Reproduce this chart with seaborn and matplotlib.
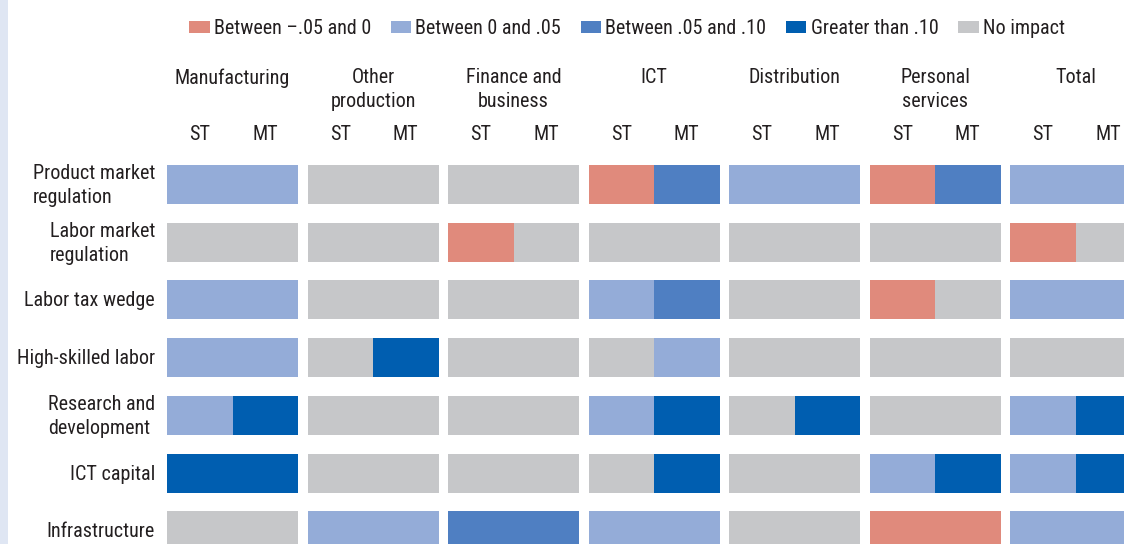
import numpy as np
import pandas as pd
import matplotlib
matplotlib.use('Agg')
import matplotlib.pyplot as plt
from matplotlib.colors import ListedColormap
from matplotlib.patches import Patch, Rectangle
import seaborn as sns

sns.set_style('white')
plt.rcParams['font.family'] = ['Roboto Condensed', 'DejaVu Sans']

# categories: 0 = between -.05 and 0, 1 = between 0 and .05,
# 2 = between .05 and .10, 3 = greater than .10, 4 = no impact
legend_labels = ['Between \u2013.05 and 0', 'Between 0 and .05', 'Between .05 and .10',
                 'Greater than .10', 'No impact']
colors = ['#e08a7c', '#94acd8', '#4f7fc2', '#005eb0', '#c6c7c9']

sectors = ['Manufacturing', 'Other\nproduction', 'Finance and\nbusiness', 'ICT',
           'Distribution', 'Personal\nservices', 'Total']
horizons = ['ST', 'MT']
factors = ['Product market\nregulation', 'Labor market\nregulation', 'Labor tax wedge',
           'High-skilled labor', 'Research and\ndevelopment', 'ICT capital', 'Infrastructure']

# each row: (ST, MT) for every sector in order above
product_market = [1, 1, 4, 4, 4, 4, 0, 2, 1, 1, 0, 2, 1, 1]
labor_market = [4, 4, 4, 4, 0, 4, 4, 4, 4, 4, 4, 4, 0, 4]
labor_tax = [1, 1, 4, 4, 4, 4, 1, 2, 4, 4, 0, 4, 1, 1]
high_skilled = [1, 1, 4, 3, 4, 4, 4, 1, 4, 4, 4, 4, 4, 4]
research_dev = [1, 3, 4, 4, 4, 4, 1, 3, 4, 3, 4, 4, 1, 3]
ict_capital = [3, 3, 4, 4, 4, 4, 4, 3, 4, 4, 1, 3, 1, 3]
infrastructure = [4, 4, 1, 1, 2, 2, 1, 1, 4, 4, 0, 0, 1, 1]

grid = np.array([product_market, labor_market, labor_tax, high_skilled,
                 research_dev, ict_capital, infrastructure])

W, H = 1124, 544
fig = plt.figure(figsize=(W / 100, H / 100), dpi=100)
cmap = ListedColormap(colors)
txt_color = '#231f20'


def fx(x):
    return x / W


def fy(y):
    return 1 - y / H


# light strip on the left edge
fig.patches.append(Rectangle((0, 0), fx(8), 1, transform=fig.transFigure,
                             facecolor='#dfe6f3', edgecolor='none', zorder=0))

x_start, x_pitch, gw = 167, 140.5, 131
y_start, y_pitch, rh = 165, 57.7, 39
fs = 14.5

for i, fac in enumerate(factors):
    y0 = y_start + y_pitch * i
    for j, sec in enumerate(sectors):
        x0 = x_start + x_pitch * j
        ax = fig.add_axes([fx(x0), fy(y0 + rh), gw / W, rh / H])
        cell = pd.DataFrame([grid[i, 2 * j:2 * j + 2]], columns=horizons)
        sns.heatmap(cell, ax=ax, cmap=cmap, vmin=-0.5, vmax=4.5, cbar=False,
                    xticklabels=False, yticklabels=False)
        ax.set_axis_off()
    fig.text(fx(155), fy(y0 + rh / 2 + 1), fac, ha='right', va='center',
             multialignment='left', fontsize=fs, color=txt_color, linespacing=1.35)

for j, sec in enumerate(sectors):
    x0 = x_start + x_pitch * j
    fig.text(fx(x0 + gw / 2), fy(68), sec, ha='center', va='top',
             fontsize=fs, color=txt_color, linespacing=1.35)
    for k, h in enumerate(horizons):
        fig.text(fx(x0 + gw / 4 + k * gw / 2), fy(135), h, ha='center', va='center',
                 fontsize=fs, color=txt_color)

handles = [Patch(facecolor=c, edgecolor='none', label=l) for c, l in zip(colors, legend_labels)]
fig.legend(handles=handles, loc='center', bbox_to_anchor=(fx(627), fy(29)), ncol=5,
           frameon=False, fontsize=fs, handlelength=1.0, handleheight=0.55,
           handletextpad=0.2, columnspacing=1.0, labelcolor=txt_color)

fig.savefig('out.png', dpi=100)
